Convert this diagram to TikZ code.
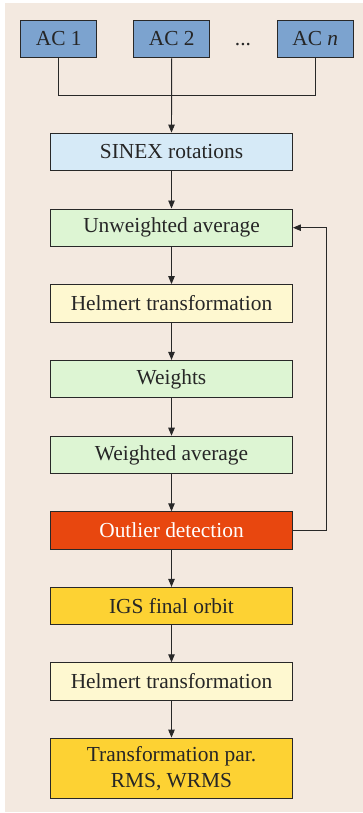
\documentclass[tikz,border=0pt]{standalone}
\usepackage{fontspec}
\setmainfont{Liberation Serif}
\usetikzlibrary{arrows.meta}
\definecolor{bgc}{RGB}{243,233,224}
\definecolor{acblue}{RGB}{124,163,207}
\definecolor{sinexc}{RGB}{214,234,247}
\definecolor{greenc}{RGB}{221,245,211}
\definecolor{yellowc}{RGB}{254,248,208}
\definecolor{redc}{RGB}{232,71,15}
\definecolor{goldc}{RGB}{253,210,51}
\definecolor{linec}{RGB}{40,40,40}
\tikzset{
  box/.style={draw=linec, line width=0.9pt, minimum width=242pt, minimum height=37.5pt, inner sep=0pt, font=\fontsize{21.4}{24}\selectfont, text=black!85, align=center},
  acbox/.style={box, minimum width=76pt, fill=acblue},
  conn/.style={draw=linec, line width=0.9pt},
  arr/.style={conn, -{Triangle[length=8pt,width=6.5pt]}}
}
\begin{document}
\begin{tikzpicture}[x=1pt,y=-1pt]
\useasboundingbox (0,0) rectangle (363,813);
\fill[bgc] (5,3) rectangle (363,812);
\node[acbox] (ac1) at (58.7,38.8) {AC 1};
\node[acbox] (ac2) at (171.7,38.8) {AC 2};
\node[acbox] (acn) at (315.3,38.8) {AC \textit{n}};
\node[font=\fontsize{21.4}{24}\selectfont, text=black!85, anchor=base] (dots) at (243,46) {...};
\node[box, fill=sinexc] (sinex) at (171.5,151.8) {SINEX rotations};
\node[box, fill=greenc] (unw) at (171.5,227.7) {Unweighted average};
\node[box, fill=yellowc] (helm1) at (171.5,303.3) {Helmert transformation};
\node[box, fill=greenc] (wts) at (171.5,379.1) {Weights};
\node[box, fill=greenc] (wavg) at (171.5,454.9) {Weighted average};
\node[box, fill=redc, text=white] (outl) at (171.5,530.5) {Outlier detection};
\node[box, fill=goldc] (igs) at (171.5,606.1) {IGS final orbit};
\node[box, fill=yellowc] (helm2) at (171.5,681.5) {Helmert transformation};
\node[box, fill=goldc, minimum height=60.7pt, font=\fontsize{21.4}{26}\selectfont] (res) at (171.5,768.4) {Transformation par.\\RMS, WRMS};
\coordinate (j) at (171.7,95.3);
\draw[conn] (ac1.south) |- (j);
\draw[conn] (acn.south) |- (j);
\draw[arr] (ac2.south) -- (sinex.north);
\draw[arr] (sinex) -- (unw);
\draw[arr] (unw) -- (helm1);
\draw[arr] (helm1) -- (wts);
\draw[arr] (wts) -- (wavg);
\draw[arr] (wavg) -- (outl);
\draw[arr] (outl) -- (igs);
\draw[arr] (igs) -- (helm2);
\draw[arr] (helm2) -- (res);
\coordinate (fb) at (326.7,530.5);
\draw[arr] (outl.east) -- (fb) |- (unw.east);
\end{tikzpicture}
\end{document}
